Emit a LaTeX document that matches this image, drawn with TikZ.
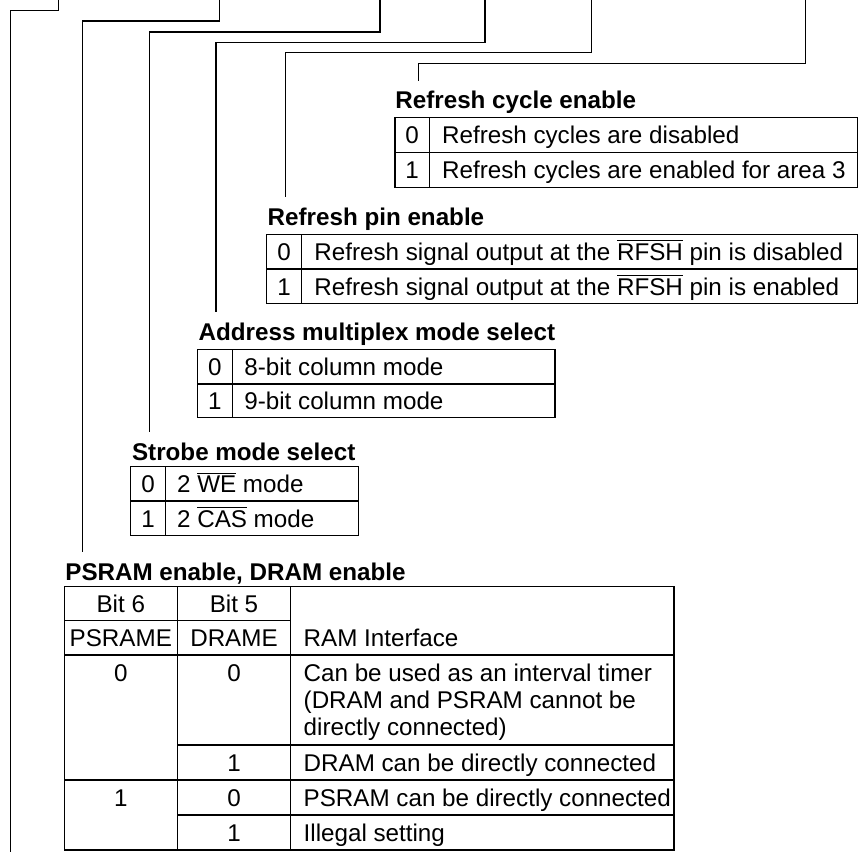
\documentclass[tikz,border=0pt]{standalone}
\usepackage{fontspec}
\setmainfont{Liberation Sans}
\usetikzlibrary{calc}
\newcommand{\regfont}{\fontsize{12.1pt}{13.35pt}\selectfont}
\newcommand{\lowact}[1]{$\overline{\mbox{#1}}$}
\tikzset{
  wire/.style={line width=0.55pt},
  grid/.style={line width=0.55pt},
  head/.style={font=\regfont\bfseries,anchor=base west,inner sep=0pt},
  val/.style={font=\regfont,anchor=base,inner sep=0pt},
  desc/.style={font=\regfont,anchor=base west,inner sep=0pt},
}

\begin{document}
\begin{tikzpicture}[x=0.5pt,y=-0.5pt]
    \useasboundingbox (0,0) rectangle (864,852);
    % Leader lines from the register bits
    \foreach \name/\tx/\hy/\ex/\ey in {A/58.7/10.3/10.7/852, B/219.7/21/82.3/551.7,
        C/380/32/149.3/431.7, D/485/42.7/216/311.7, E/591.3/52.7/285.3/196.7,
        F/805.3/63.7/418.3/81}{
      \coordinate (top\name) at (\tx,0);
      \coordinate (end\name) at (\ex,\ey);
      \draw[wire] (top\name) -- (\tx,\hy) -| (end\name);
    }
    % Refresh cycle enable
    \node[head] (rceTitle) at (395,108) {Refresh cycle enable};
    \draw[grid] (395,117.7) rectangle (857.3,187.3);
    \draw[grid] (395,152.7) -- (857.3,152.7) (429.3,117.7) -- (429.3,187.3);
    \node[val] (rceZero) at (412.2,143.7) {0};
    \node[desc] (rceOff) at (441.7,143.7) {Refresh cycles are disabled};
    \node[val] (rceOne) at (412.2,178.7) {1};
    \node[desc] (rceOn) at (441.7,178.7) {Refresh cycles are enabled for area 3};
    % Refresh pin enable
    \node[head] (rpeTitle) at (267.3,225) {Refresh pin enable};
    \draw[grid] (266.7,234.3) rectangle (857.3,303.7);
    \draw[grid] (266.7,269) -- (857.3,269) (301.7,234.3) -- (301.7,303.7);
    \node[val] (rpeZero) at (284.2,260.3) {0};
    \node[desc] (rpeOff) at (314,260.3) {Refresh signal output at the \lowact{RFSH} pin is disabled};
    \node[val] (rpeOne) at (284.2,295) {1};
    \node[desc] (rpeOn) at (314,295) {Refresh signal output at the \lowact{RFSH} pin is enabled};
    % Address multiplex mode select
    \node[head] (amsTitle) at (198.3,340) {Address multiplex mode select};
    \draw[grid] (197.3,349.3) rectangle (555,417.7);
    \draw[grid] (197.3,384) -- (555,384) (232.3,349.3) -- (232.3,417.7);
    \node[val] (amsZero) at (214.8,375.3) {0};
    \node[desc] (amsEight) at (244,375.3) {8-bit column mode};
    \node[val] (amsOne) at (214.8,409.5) {1};
    \node[desc] (amsNine) at (244,409.5) {9-bit column mode};
    % Strobe mode select
    \node[head] (smsTitle) at (131.7,460) {Strobe mode select};
    \draw[grid] (130.7,466.7) rectangle (358.3,535.7);
    \draw[grid] (130.7,501) -- (358.3,501) (165.7,466.7) -- (165.7,535.7);
    \node[val] (smsZero) at (148.2,492.4) {0};
    \node[desc] (smsWe) at (176.7,492.4) {2 \lowact{WE} mode};
    \node[val] (smsOne) at (148.2,527) {1};
    \node[desc] (smsCas) at (176.7,527) {2 \lowact{CAS} mode};
    % PSRAM enable, DRAM enable
    \node[head] (ramTitle) at (65,580) {PSRAM enable, DRAM enable};
    \draw[grid] (64.3,586.7) rectangle (674,850);
    \draw[grid] (177.3,586.7) -- (177.3,850) (290.7,586.7) -- (290.7,850);
    \draw[grid] (64.3,620.7) -- (290.7,620.7) (64.3,655) -- (674,655)
      (177.3,745) -- (674,745) (64.3,780) -- (674,780) (177.3,815) -- (674,815);
    \node[val] (bitSix) at (120.8,612.3) {Bit 6};
    \node[val] (bitFive) at (234,612.3) {Bit 5};
    \node[val] (psrame) at (120.8,646.5) {PSRAME};
    \node[val] (drame) at (234,646.5) {DRAME};
    \node[desc] (ramIf) at (303.3,646.5) {RAM Interface};
    \node[val] (psZeroA) at (120.8,681.7) {0};
    \node[val] (drZeroA) at (234,681.7) {0};
    \node[desc] (ifTimer) at (303.3,681.7) {\parbox[t]{9cm}{\raggedright Can be used as an interval timer\\(DRAM and PSRAM cannot be\\directly connected)}};
    \node[val] (drOneA) at (234,771) {1};
    \node[desc] (ifDram) at (303.3,771) {DRAM can be directly connected};
    \node[val] (psOne) at (120.8,806) {1};
    \node[val] (drZeroB) at (234,806) {0};
    \node[desc] (ifPsram) at (303.3,806) {PSRAM can be directly connected};
    \node[val] (drOneB) at (234,841) {1};
    \node[desc] (ifBad) at (303.3,841) {Illegal setting};
\end{tikzpicture}
\end{document}
